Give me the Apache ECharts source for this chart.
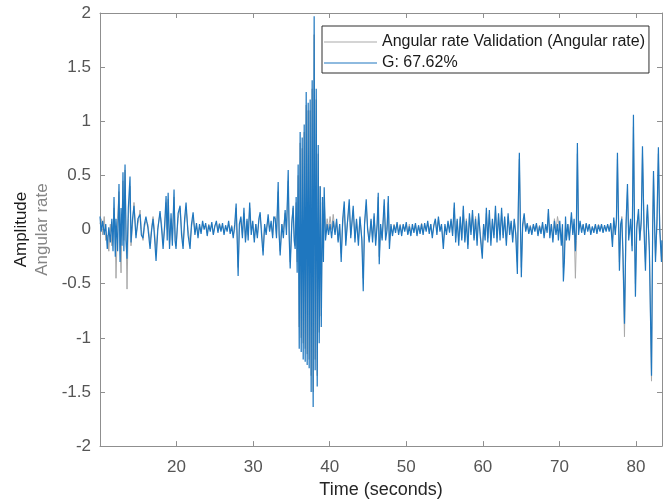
<!DOCTYPE html>
<html><head><meta charset="utf-8">
<script src="https://cdn.jsdelivr.net/npm/echarts@6/dist/echarts.min.js"></script>
<style>html,body{margin:0;padding:0;background:#fff}#c{width:671px;height:504px}</style>
</head><body><div id="c"></div>
<script>
// Time (seconds)
const time = [
10.0,10.15,10.35,10.55,10.75,10.95,11.15,11.35,11.55,11.7,
11.83,12.0,12.09,12.3,12.48,12.62,12.75,12.88,13.0,13.12,
13.27,13.4,13.53,13.7,13.92,14.05,14.25,14.44,14.7,14.95,
15.23,15.4,15.62,15.8,16.0,16.25,16.54,16.75,16.93,17.1,
17.32,17.55,17.84,18.05,18.24,18.45,18.63,18.78,18.9,19.08,
19.28,19.45,19.67,19.8,19.93,20.2,20.46,20.65,20.85,21.05,
21.24,21.5,21.76,21.95,22.16,22.4,22.6,22.8,23.0,23.2,
23.4,23.6,23.8,24.0,24.2,24.4,24.6,24.8,25.0,25.2,
25.4,25.6,25.8,26.0,26.2,26.4,26.6,26.8,27.0,27.2,
27.4,27.6,27.78,27.92,28.04,28.2,28.4,28.6,28.8,29.0,
29.2,29.35,29.55,29.75,29.95,30.15,30.35,30.55,30.75,30.92,
31.1,31.3,31.5,31.7,31.96,32.15,32.35,32.55,32.7,32.88,
33.05,33.27,33.4,33.53,33.75,33.95,34.18,34.35,34.58,34.72,
34.84,35.05,35.23,35.36,35.49,35.62,35.75,35.88,36.02,36.14,
36.28,36.41,36.54,36.67,36.8,36.93,37.06,37.19,37.32,37.45,
37.58,37.71,37.84,37.97,38.1,38.24,38.37,38.5,38.63,38.76,
38.9,39.05,39.18,39.28,39.45,39.67,39.85,40.05,40.25,40.46,
40.7,40.9,41.1,41.3,41.5,41.7,41.9,42.1,42.3,42.55,
42.75,43.07,43.3,43.5,43.75,43.95,44.2,44.38,44.55,44.77,
44.95,45.16,45.4,45.6,45.8,46.0,46.2,46.34,46.47,46.65,
46.85,47.12,47.3,47.5,47.65,47.8,48.0,48.2,48.4,48.6,
48.8,49.0,49.2,49.4,49.6,49.8,50.0,50.2,50.4,50.6,
50.8,51.0,51.2,51.4,51.6,51.8,52.0,52.2,52.4,52.6,
52.8,53.0,53.2,53.4,53.6,53.8,54.0,54.2,54.4,54.6,
54.84,55.05,55.25,55.45,55.65,55.85,56.05,56.27,56.45,56.65,
56.85,57.05,57.25,57.45,57.65,57.85,58.05,58.25,58.45,58.65,
58.85,59.05,59.25,59.45,59.65,59.93,60.1,60.3,60.46,60.65,
60.85,61.05,61.25,61.45,61.65,61.85,62.05,62.25,62.45,62.65,
62.85,63.07,63.3,63.5,63.7,63.9,64.1,64.3,64.51,64.64,
64.77,64.9,65.03,65.2,65.4,65.6,65.8,66.0,66.2,66.4,
66.6,66.8,67.0,67.2,67.4,67.6,67.8,68.0,68.2,68.4,
68.56,68.75,68.95,69.15,69.35,69.55,69.75,69.87,70.05,70.25,
70.4,70.52,70.65,70.8,70.92,71.1,71.3,71.57,71.75,71.92,
72.09,72.22,72.35,72.5,72.7,72.9,73.1,73.3,73.5,73.7,
73.9,74.1,74.3,74.5,74.7,74.9,75.1,75.3,75.5,75.7,
75.9,76.1,76.3,76.5,76.7,76.93,77.1,77.3,77.45,77.58,
77.72,77.84,78.0,78.15,78.3,78.5,78.7,78.89,79.05,79.3,
79.5,79.67,79.8,79.93,80.1,80.33,80.5,80.7,80.85,81.05,
81.24,81.4,81.5,81.75,82.03,82.18,82.29,82.42,82.55,82.75,
82.93,83.1,83.33,83.4
];

// Model output "G: 67.62%" (blue)
const modelG = [
0.12,-0.02,0.08,-0.05,0.05,-0.18,0.02,-0.12,0.1,-0.2,
0.3,-0.25,0.1,-0.2,0.42,-0.3,0.2,-0.15,0.53,-0.2,
0.6,-0.1,-0.27,0.2,0.49,-0.12,0.1,0.22,-0.08,0.1,
0.14,-0.05,-0.08,0.05,0.12,0.02,-0.18,0.0,0.1,-0.05,
-0.29,0.0,0.17,0.0,-0.18,0.05,0.31,-0.1,0.34,-0.18,
0.15,-0.15,0.37,-0.1,-0.18,0.15,0.22,-0.05,-0.18,0.1,
0.25,-0.05,-0.18,0.05,0.16,-0.05,0.06,-0.08,0.05,-0.04,
0.08,0.0,0.06,-0.06,0.04,-0.02,0.07,-0.05,0.03,0.08,
-0.03,0.05,-0.02,0.06,-0.05,0.04,-0.02,0.08,-0.04,0.03,
-0.08,0.05,0.24,-0.1,-0.43,0.05,0.12,-0.08,0.2,-0.12,
0.1,-0.1,0.25,-0.05,0.08,-0.12,0.05,-0.08,0.1,0.16,
-0.05,-0.24,0.05,-0.05,0.14,-0.02,0.08,-0.08,0.12,0.1,
-0.08,0.44,-0.05,-0.24,0.05,-0.08,0.18,-0.05,0.55,-0.1,
-0.36,0.05,0.22,-0.1,-0.18,0.3,-0.4,0.6,-1.1,0.9,
-1.13,0.85,-1.2,0.97,-1.22,1.27,-1.25,1.17,-1.28,1.2,
-1.5,1.38,-1.64,1.97,-1.3,1.3,-1.45,0.78,-1.05,0.4,
-0.9,0.3,-0.3,0.39,-0.1,0.05,-0.05,0.05,-0.08,0.08,
-0.05,0.1,-0.12,0.05,-0.3,0.1,0.26,-0.15,0.05,0.28,
-0.08,0.22,-0.12,0.1,-0.15,0.12,-0.1,-0.57,0.05,0.28,
0.0,-0.12,0.1,-0.12,0.15,-0.15,0.05,0.34,-0.32,0.05,
-0.1,0.28,-0.1,0.0,0.31,-0.18,0.05,-0.06,0.04,-0.03,
0.07,-0.05,0.04,-0.06,0.05,-0.02,0.07,-0.05,0.03,-0.06,
0.05,-0.03,0.06,-0.06,0.04,-0.04,0.05,-0.05,0.06,-0.02,
0.08,-0.04,0.05,-0.08,0.04,0.1,-0.05,0.12,-0.02,0.05,
-0.18,0.05,-0.05,0.08,-0.03,0.1,-0.06,0.25,-0.12,0.1,
-0.15,0.12,-0.1,0.22,-0.12,0.08,-0.18,0.15,-0.05,0.18,
-0.1,0.1,-0.15,0.15,-0.05,-0.27,0.05,-0.1,0.2,-0.12,
0.18,-0.15,0.1,-0.08,0.22,-0.12,0.15,-0.1,0.2,-0.08,
0.12,-0.15,0.15,-0.05,0.08,-0.12,0.1,-0.05,-0.41,0.25,
0.71,0.1,-0.44,0.05,0.15,-0.02,0.06,-0.04,0.03,-0.05,
0.05,-0.02,0.06,-0.06,0.03,-0.04,0.07,-0.08,0.05,-0.03,
0.19,-0.08,0.05,-0.12,0.08,-0.05,0.05,-0.1,0.08,-0.15,
0.05,-0.48,-0.3,0.12,-0.1,0.05,-0.1,0.16,-0.05,0.1,
-0.2,0.05,0.8,-0.05,0.08,-0.03,0.05,-0.05,0.06,-0.02,
0.05,-0.05,0.03,-0.03,0.05,-0.04,0.04,-0.02,0.05,-0.03,
0.04,-0.02,0.05,-0.02,0.06,-0.16,0.11,-0.05,0.1,0.71,
0.1,-0.38,0.05,0.1,-0.2,-0.87,0.05,0.42,-0.1,0.1,
-0.2,1.06,0.1,-0.62,0.0,0.19,-0.1,0.1,0.77,0.0,
-0.38,0.1,0.23,-0.2,-1.35,0.0,0.54,0.1,-0.3,0.1,
0.76,0.0,-0.3,-0.1
];

// Measured "Angular rate Validation" (gray)
const validation = [
0.05,0.1,-0.05,0.12,-0.1,-0.05,-0.2,0.05,-0.15,0.0,
0.2,-0.1,-0.45,0.1,0.35,-0.15,-0.4,0.1,0.45,-0.1,
0.55,0.0,-0.55,0.1,0.4,-0.15,0.05,0.25,-0.05,0.05,
0.18,0.0,-0.1,0.02,0.08,0.05,-0.12,0.02,0.12,0.0,
-0.2,0.02,0.15,0.05,-0.12,0.0,0.25,0.0,0.28,-0.15,
0.1,-0.1,0.3,0.0,-0.15,0.1,0.2,0.0,-0.15,0.05,
0.2,0.0,-0.12,0.02,0.12,-0.02,0.04,-0.05,0.03,-0.02,
0.05,0.02,0.04,-0.03,0.05,0.0,0.05,-0.04,0.04,0.06,
0.0,0.06,0.0,0.04,-0.03,0.02,0.0,0.05,-0.02,0.04,
-0.05,0.0,0.2,-0.05,-0.35,0.0,0.1,-0.05,0.15,-0.1,
0.08,-0.05,0.2,0.0,0.05,-0.08,0.05,-0.05,0.08,0.12,
0.0,-0.2,0.02,0.0,0.1,0.0,0.05,-0.05,0.1,0.12,
-0.05,0.35,-0.05,-0.2,0.05,0.0,0.15,0.0,0.45,-0.05,
-0.3,0.08,0.2,-0.05,-0.15,0.25,-0.3,0.5,-0.9,0.8,
-1.0,0.75,-1.05,0.9,-1.1,1.15,-1.15,1.1,-1.2,1.1,
-1.35,1.3,-1.5,1.8,-1.2,1.2,-1.35,0.7,-0.95,0.4,
-0.8,0.25,-0.25,0.3,-0.05,0.1,0.0,0.12,0.0,0.14,
-0.02,0.08,-0.1,0.05,-0.22,0.05,0.2,-0.1,0.05,0.22,
-0.05,0.18,-0.08,0.08,-0.1,0.1,-0.08,-0.45,0.05,0.22,
0.02,-0.1,0.08,-0.08,0.12,-0.1,0.05,0.3,-0.25,0.02,
-0.08,0.22,-0.05,0.05,0.25,-0.12,0.03,-0.04,0.05,0.0,
0.05,-0.03,0.05,-0.03,0.04,0.0,0.05,-0.04,0.05,-0.03,
0.02,0.0,0.05,-0.04,0.03,-0.02,0.06,-0.03,0.04,0.0,
0.06,-0.02,0.05,-0.05,0.03,0.08,-0.02,0.1,0.0,0.04,
-0.12,0.03,-0.02,0.05,0.0,0.08,-0.04,0.2,-0.08,0.08,
-0.1,0.1,-0.08,0.18,-0.1,0.1,-0.14,0.12,-0.02,0.15,
-0.08,0.12,-0.1,0.12,-0.02,-0.22,0.05,-0.05,0.15,-0.08,
0.14,-0.1,0.08,-0.05,0.18,-0.08,0.12,-0.05,0.15,-0.05,
0.1,-0.1,0.12,0.0,0.06,-0.08,0.08,-0.02,-0.3,0.2,
0.65,0.05,-0.35,0.02,0.1,0.0,0.05,-0.02,0.04,-0.03,
0.04,0.0,0.05,-0.04,0.04,-0.02,0.05,-0.05,0.03,0.0,
0.15,-0.05,0.05,-0.08,0.1,-0.02,0.12,0.13,0.0,-0.1,
0.02,-0.35,-0.2,0.05,-0.08,0.05,-0.05,0.12,-0.03,0.05,
-0.45,-0.1,0.7,0.0,0.06,0.0,0.04,-0.03,0.05,0.0,
0.04,-0.03,0.02,0.0,0.04,-0.02,0.05,0.0,0.04,-0.02,
0.03,0.0,0.04,0.0,0.05,-0.1,0.08,0.0,0.05,0.65,
0.05,-0.3,0.0,0.12,-0.3,-0.99,0.0,0.35,-0.05,0.05,
-0.15,0.95,0.05,-0.5,0.05,0.15,-0.1,0.05,0.7,0.05,
-0.3,0.05,0.2,-0.15,-1.4,0.0,0.5,0.05,-0.25,0.05,
0.7,0.05,-0.25,-0.1
];

const seriesNames = ['Angular rate Validation (Angular rate)', 'G: 67.62%'];
const xTickLabels = [20, 30, 40, 50, 60, 70, 80];
const xRange = [10, 83.4];
const yRange = [-2, 2];

const valData = time.map((t, i) => [t, validation[i]]);
const gData = time.map((t, i) => [t, modelG[i]]);

const FONT = "'Liberation Sans', Arial, Helvetica, sans-serif";
const axisColor = '#8f8f8f';
const tickColor = '#555555';
const grayColor = '#a9a9a9';
const blueColor = '#1f77bf';

const chart = echarts.init(document.getElementById('c'), null, {renderer: 'canvas'});
const boxAxis = {
  axisLine: {show: true, onZero: false, lineStyle: {color: axisColor, width: 1}},
  axisTick: {show: true, inside: true, length: 5, lineStyle: {color: axisColor, width: 1}},
  splitLine: {show: false}
};
const lineIcon = 'path://M0,0 L53,0 L53,1.2 L0,1.2 Z';
chart.setOption({
  animation: false,
  backgroundColor: '#ffffff',
  grid: {left: 100, right: 9, top: 13, bottom: 56, containLabel: false},
  legend: {
    orient: 'vertical', left: 322, top: 26,
    padding: [8, 4, 2, 2], itemGap: 5, itemWidth: 53, itemHeight: 16,
    symbolKeepAspect: true,
    borderColor: '#2e2e2e', borderWidth: 1, borderRadius: 0, backgroundColor: '#ffffff',
    textStyle: {fontSize: 16, color: '#1a1a1a', fontFamily: FONT},
    data: [
      {name: seriesNames[0], icon: lineIcon, itemStyle: {color: grayColor}},
      {name: seriesNames[1], icon: lineIcon, itemStyle: {color: blueColor}}
    ]
  },
  xAxis: [
    Object.assign({
      type: 'value', min: xRange[0], max: xRange[1], interval: 10,
      axisLabel: {
        margin: 13, color: tickColor, fontSize: 17, fontFamily: FONT,
        formatter: v => xTickLabels.indexOf(Math.round(v * 1000) / 1000) >= 0 ? String(v) : ''
      },
      name: 'Time (seconds)', nameLocation: 'middle', nameGap: 34,
      nameTextStyle: {fontSize: 18, color: '#262626', fontFamily: FONT}
    }, boxAxis),
    Object.assign({
      type: 'value', position: 'top', min: xRange[0], max: xRange[1], interval: 10,
      axisLabel: {show: false}
    }, boxAxis)
  ],
  yAxis: [
    Object.assign({
      type: 'value', min: yRange[0], max: yRange[1], interval: 0.5,
      axisLabel: {margin: 9, color: tickColor, fontSize: 17, fontFamily: FONT},
      name: '{a|Amplitude}\n{b|Angular rate}', nameLocation: 'middle', nameGap: 44,
      nameTextStyle: {
        fontFamily: FONT, align: 'center',
        rich: {
          a: {fontSize: 17, color: '#1a1a1a', fontFamily: FONT, lineHeight: 21, align: 'center'},
          b: {fontSize: 17, color: '#858585', fontFamily: FONT, lineHeight: 21, align: 'center'}
        }
      }
    }, boxAxis),
    Object.assign({
      type: 'value', position: 'right', min: yRange[0], max: yRange[1], interval: 0.5,
      axisLabel: {show: false}
    }, boxAxis)
  ],
  series: [
    {
      name: seriesNames[0], type: 'line', data: valData, xAxisIndex: 0, yAxisIndex: 0,
      symbol: 'none', silent: true, z: 2,
      lineStyle: {color: grayColor, width: 1},
      itemStyle: {color: grayColor}
    },
    {
      name: seriesNames[1], type: 'line', data: gData, xAxisIndex: 0, yAxisIndex: 0,
      symbol: 'none', silent: true, z: 3,
      lineStyle: {color: blueColor, width: 1.2},
      itemStyle: {color: blueColor}
    }
  ]
});
</script>
</body></html>
